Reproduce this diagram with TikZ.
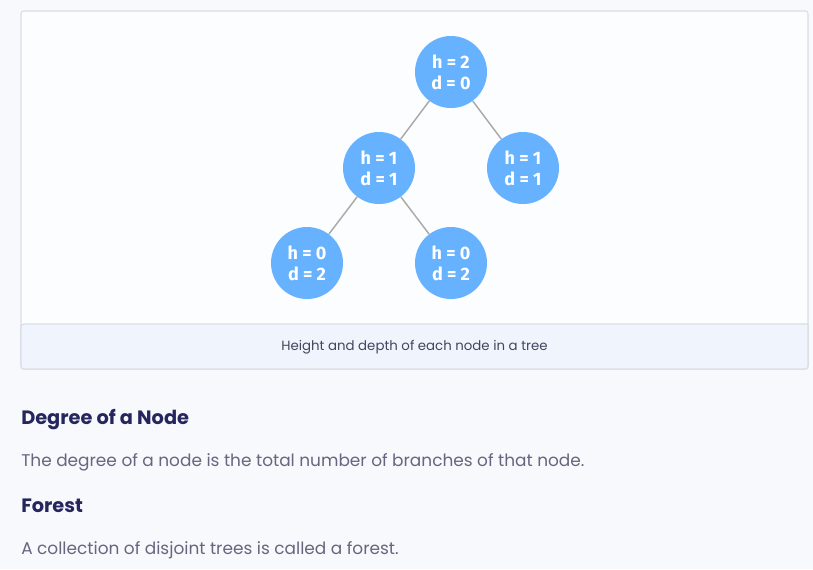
\documentclass[tikz,border=0pt]{standalone}
\usepackage{fontspec}
\setmainfont{Poppins}
\newfontfamily\nodefont{Fira Sans}
\usepackage{xcolor}
\definecolor{pagebg}{HTML}{F8F9FC}
\definecolor{framebg}{HTML}{FCFDFF}
\definecolor{captionbg}{HTML}{F0F4FC}
\definecolor{framedraw}{HTML}{D9DDE6}
\definecolor{nodeblue}{HTML}{66B2FF}
\definecolor{edgegray}{HTML}{AAAAAA}
\definecolor{headcol}{HTML}{25265E}
\definecolor{bodycol}{HTML}{65667F}
\definecolor{capcol}{HTML}{44455E}
\usetikzlibrary{positioning}

\begin{document}
\begin{tikzpicture}[
    x=0.75pt, y=-0.75pt,
    treenode/.style={circle, fill=nodeblue, minimum size=54pt, inner sep=0pt, align=center,
        text=white, font=\nodefont\bfseries\fontsize{13.5}{15.75}\selectfont},
    edge/.style={draw=edgegray, line width=1.1pt},
    heading/.style={anchor=base west, inner sep=0pt, text=headcol, font=\bfseries\fontsize{14.5}{17}\selectfont},
    bodytext/.style={anchor=base west, inner sep=0pt, text=bodycol, font=\fontsize{12.7}{15}\selectfont}
]
    \useasboundingbox (0,0) rectangle (813,569);
    \fill[pagebg] (0,0) rectangle (813,569);

    % Frame and caption band
    \filldraw[fill=framebg, draw=framedraw, line width=0.8pt, rounded corners=2pt] (21,11) rectangle (808,369);
    \filldraw[fill=captionbg, draw=framedraw, line width=0.8pt] (21,324) -- (808,324) -- (808,367) [rounded corners=2pt] -- (808,369) -- (21,369) -- cycle;

    % Tree
    \node[treenode] (root) at (451,72) {h = 2\\d = 0};
    \node[treenode] (left) at (379,168) {h = 1\\d = 1};
    \node[treenode] (right) at (523,168) {h = 1\\d = 1};
    \node[treenode] (leftleft) at (307,263) {h = 0\\d = 2};
    \node[treenode] (leftright) at (451,263) {h = 0\\d = 2};

    % Edges
    \draw[edge] (root) -- (left);
    \draw[edge] (root) -- (right);
    \draw[edge] (left) -- (leftleft);
    \draw[edge] (left) -- (leftright);

    % Caption
    \node[text=capcol, font=\fontsize{10}{12}\selectfont] (caption) at (414.5,347) {Height and depth of each node in a tree};

    % Text below
    \node[heading] (degree) at (21,424) {Degree of a Node};
    \node[bodytext] (degreetext) at (21,466) {The degree of a node is the total number of branches of that node.};
    \node[heading] (forest) at (21,512) {Forest};
    \node[bodytext] (foresttext) at (21,554) {A collection of disjoint trees is called a forest.};
\end{tikzpicture}
\end{document}
